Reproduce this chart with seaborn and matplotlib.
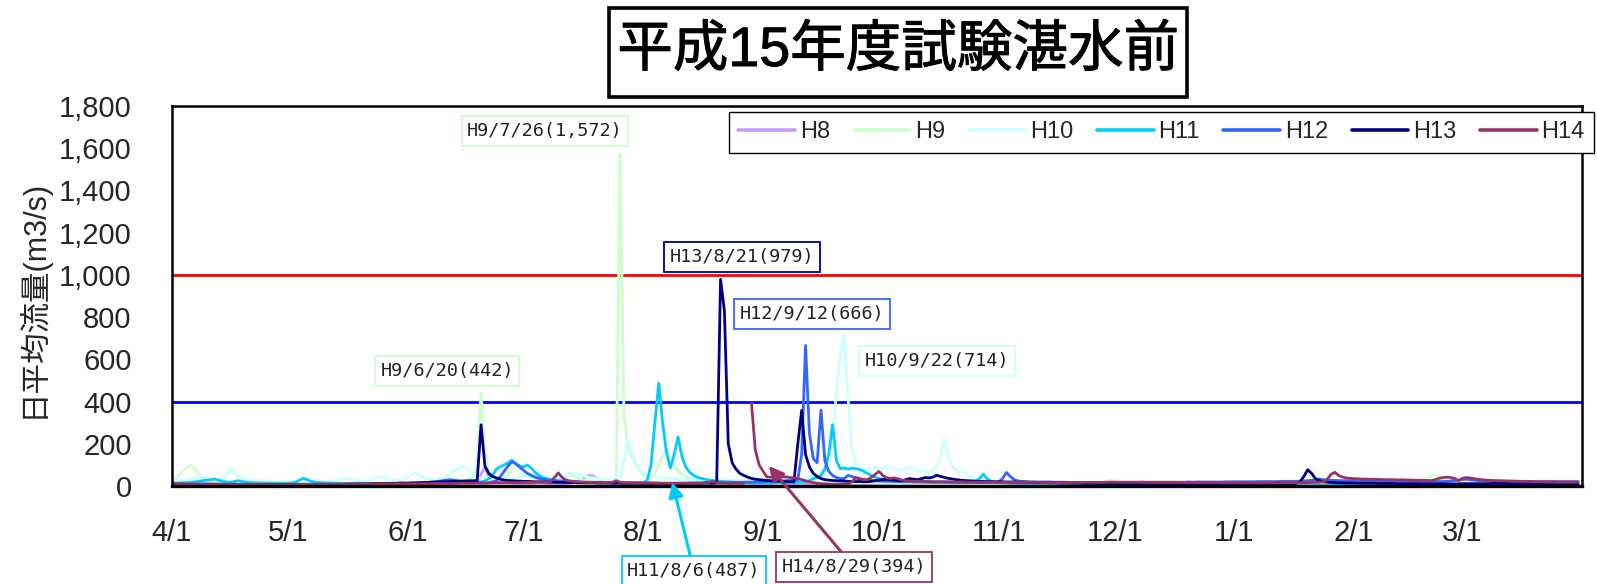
import numpy as np
import pandas as pd
import matplotlib
matplotlib.use("Agg")
import matplotlib.pyplot as plt
import seaborn as sns
from matplotlib.lines import Line2D
from matplotlib.patches import Rectangle
from matplotlib import font_manager
from matplotlib import patheffects
from matplotlib.ticker import MultipleLocator

nan = float("nan")

# ---------------- data ----------------
title_text = "平成15年度試験湛水前"
y_label = "日平均流量(m3/s)"

series_names = ["H8", "H9", "H10", "H11", "H12", "H13", "H14"]
series_colors = ["#cc99ff", "#ccffcc", "#ccffff", "#00ccff", "#3366ff", "#000080", "#993366"]

month_ticks = [0, 30, 61, 91, 122, 153, 183, 214, 244, 275, 306, 334]
month_labels = ["4/1", "5/1", "6/1", "7/1", "8/1", "9/1", "10/1", "11/1", "12/1", "1/1", "2/1", "3/1"]
ytick_values = [0, 200, 400, 600, 800, 1000, 1200, 1400, 1600, 1800]
ytick_labels = ["0", "200", "400", "600", "800", "1,000", "1,200", "1,400", "1,600", "1,800"]

ref_levels = [1000, 400]
ref_colors = ["#ff0000", "#0000ff"]

# daily mean discharge (m3/s), day 0 = 4/1
h8 = [
    12, 11, 11, 10, 10, 10, 9, 9, 9, 9,
    9, 9, 8, 8, 8, 8, 8, 8, 7, 7,
    7, 7, 8, 8, 7, 7, 7, 6, 6, 6,
    6, 6, 6, 6, 7, 7, 7, 6, 6, 6,
    6, 6, 6, 6, 6, 5, 5, 5, 5, 5,
    5, 5, 6, 6, 6, 7, 8, 8, 7, 7,
    7, 7, 7, 6, 6, 6, 7, 8, 9, 9,
    9, 10, 10, 11, 12, 14, 18, 16, 15, 20,
    55, 90, 40, 25, 20, 17, 15, 14, 13, 12,
    12, 11, 11, 10, 12, 15, 14, 12, 11, 10,
    10, 10, 11, 14, 18, 22, 30, 42, 50, 49,
    35, 22, 16, 13, 12, 11, 10, 10, 10, 9,
    9, 9, 11, 14, 13, 11, 10, 9, 9, 9,
    8, 8, 8, 8, 9, 10, 11, 13, 15, 12,
    10, 9, 9, 8, 8, 8, 8, 8, 7, 7,
    7, 7, 7, 8, 9, 11, 13, 15, 13, 11,
    10, 10, 9, 9, 9, 9, 8, 8, 8, 8,
    8, 8, 8, 9, 9, 10, 10, 9, 9, 8,
    8, 8, 8, 8, 7, 7, 7, 7, 7, 7,
    7, 7, 7, 7, 8, 8, 8, 8, 7, 7,
    7, 7, 7, 7, 7, 6, 6, 6, 6, 6,
    6, 6, 6, 6, 6, 6, 7, 7, 7, 7,
    7, 7, 7, 8, 9, 12, 16, 20, 18, 14,
    12, 10, 9, 9, 8, 8, 8, 8, 8, 7,
    7, 7, 8, 8, 8, 7, 7, 7, 6, 6,
    6, 6, 6, 6, 6, 6, 6, 7, 7, 7,
    8, 10, 14, 20, 18, 14, 11, 9, 8, 8,
    8, 7, 7, 7, 7, 7, 7, 6, 6, 6,
    6, 6, 6, 7, 7, 7, 6, 6, 6, 6,
    6, 6, 6, 6, 7, 7, 7, 7, 8, 8,
    8, 9, 9, 9, 8, 8, 8, 8, 7, 7,
    7, 7, 7, 7, 8, 8, 9, 9, 8, 8,
    8, 8, 8, 8, 9, 10, 12, 14, 12, 10,
    9, 9, 8, 8, 8, 8, 8, 9, 9, 9,
    9, 9, 9, 10, 10, 10, 9, 9, 9, 8,
    8, 8, 8, 7, 7, 7, 8, 8, 8, 8,
    8, 8, 8, 8, 8]

h9 = [
    20, 35, 55, 75, 90, 96, 80, 55, 38, 30,
    26, 24, 22, 21, 20, 19, 18, 18, 17, 17,
    16, 16, 15, 15, 15, 14, 14, 14, 14, 13,
    13, 13, 13, 13, 14, 15, 14, 13, 13, 12,
    12, 12, 12, 13, 13, 12, 12, 11, 11, 11,
    11, 11, 12, 13, 14, 14, 13, 12, 12, 11,
    11, 11, 11, 11, 12, 12, 13, 14, 15, 16,
    17, 18, 18, 20, 22, 25, 28, 32, 45, 110,
    442, 170, 70, 48, 40, 36, 34, 45, 80, 115,
    85, 58, 46, 40, 35, 31, 29, 27, 26, 25,
    28, 40, 55, 62, 48, 38, 31, 27, 25, 23,
    21, 19, 18, 17, 17, 20, 1572, 330, 190, 140,
    105, 75, 50, 40, 45, 60, 100, 140, 178, 120,
    90, 70, 55, 45, 40, 36, 33, 30, 28, 27,
    26, 25, 24, 23, 23, 22, 22, 21, 21, 20,
    20, 20, 19, 19, 19, 18, 18, 18, 17, 17,
    17, 17, 16, 18, 22, 20, 18, 17, 16, 16,
    16, 15, 15, 15, 16, 18, 17, 16, 15, 15,
    15, 15, 14, 14, 14, 14, 14, 13, 13, 13,
    13, 13, 13, 13, 13, 13, 12, 12, 12, 12,
    12, 12, 13, 13, 12, 12, 12, 11, 11, 11,
    11, 11, 11, 11, 11, 11, 11, 11, 10, 10,
    10, 10, 10, 10, 10, 10, 10, 10, 11, 11,
    11, 11, 11, 11, 12, 12, 13, 13, 13, 12,
    14, 18, 24, 28, 24, 18, 14, 12, 11, 11,
    10, 10, 10, 10, 10, 9, 9, 9, 9, 9,
    9, 9, 9, 10, 10, 10, 9, 9, 9, 9,
    9, 9, 8, 8, 8, 8, 8, 8, 8, 8,
    8, 8, 8, 8, 9, 9, 9, 9, 9, 9,
    9, 9, 9, 9, 9, 10, 10, 10, 10, 10,
    10, 10, 10, 10, 10, 11, 11, 11, 11, 11,
    11, 11, 11, 12, 12, 12, 12, 12, 13, 13,
    14, 15, 17, 20, 26, 35, 45, 55, 45, 32,
    24, 20, 17, 15, 14, 14, 13, 13, 13, 12,
    12, 12, 13, 14, 16, 18, 16, 14, 13, 13,
    12, 12, 12, 12, 12, 12, 11, 11, 11, 11,
    11, 11, 11, 11, 11]

h10 = [
    30, 28, 27, 26, 28, 35, 45, 40, 32, 28,
    26, 25, 26, 30, 50, 85, 70, 45, 35, 30,
    28, 26, 25, 24, 24, 23, 23, 22, 22, 22,
    21, 21, 22, 25, 30, 28, 25, 24, 23, 22,
    22, 22, 24, 28, 35, 38, 32, 27, 25, 24,
    24, 26, 32, 40, 45, 38, 32, 28, 27, 27,
    32, 42, 56, 61, 50, 40, 35, 32, 30, 32,
    38, 45, 55, 70, 85, 95, 90, 70, 50, 40,
    36, 45, 40, 35, 32, 30, 30, 32, 35, 38,
    40, 42, 45, 55, 50, 42, 38, 36, 34, 33,
    35, 40, 48, 52, 56, 59, 52, 45, 40, 38,
    35, 33, 32, 31, 30, 30, 32, 120, 218, 160,
    110, 80, 62, 52, 46, 42, 40, 38, 36, 35,
    34, 33, 32, 32, 31, 31, 30, 30, 30, 29,
    29, 28, 28, 28, 27, 27, 27, 26, 26, 26,
    26, 26, 27, 28, 30, 32, 34, 36, 35, 34,
    33, 33, 34, 36, 40, 45, 50, 52, 55, 60,
    100, 220, 450, 620, 714, 420, 180, 110, 85, 80,
    78, 82, 90, 85, 80, 96, 88, 82, 78, 75,
    80, 86, 78, 72, 70, 68, 70, 75, 95, 140,
    227, 140, 90, 78, 70, 60, 50, 42, 36, 32,
    30, 28, 26, 24, 22, 20, 19, 18, 17, 17,
    16, 16, 15, 15, 15, 14, 14, 14, 13, 13,
    13, 13, 12, 12, 12, 12, 11, 11, 11, 11,
    11, 10, 10, 10, 10, 10, 10, 10, 9, 9,
    9, 9, 9, 9, 9, 9, 9, 8, 8, 8,
    8, 8, 8, 8, 8, 7, 7, 7, 7, 7,
    7, 7, 7, 7, 7, 7, 6, 6, 6, 6,
    6, 6, 6, 6, 6, 6, 6, 7, 7, 7,
    7, 7, 7, 7, 7, 7, 7, 8, 8, 8,
    8, 8, 9, 9, 9, 9, 9, 9, 9, 9,
    9, 9, 9, 9, 9, 9, 10, 10, 10, 10,
    10, 10, 10, 10, 10, 10, 10, 10, 11, 11,
    11, 11, 11, 12, 12, 12, 12, 12, 12, 12,
    12, 12, 12, 12, 13, 13, 13, 13, 13, 13,
    13, 13, 13, 13, 13, 13, 12, 12, 12, 12,
    12, 12, 12, 12, 12]

h11 = [
    15, 14, 14, 15, 16, 18, 20, 22, 25, 28,
    30, 33, 28, 22, 19, 18, 20, 25, 22, 18,
    16, 15, 15, 14, 14, 14, 13, 13, 13, 13,
    13, 14, 18, 28, 36, 30, 22, 18, 16, 15,
    14, 14, 13, 13, 13, 12, 12, 12, 12, 12,
    12, 12, 12, 11, 11, 11, 11, 11, 11, 11,
    11, 11, 11, 12, 12, 13, 14, 16, 18, 20,
    22, 24, 26, 25, 23, 22, 20, 19, 18, 18,
    20, 24, 35, 50, 80, 92, 100, 110, 122, 105,
    95, 90, 100, 85, 65, 50, 40, 35, 30, 28,
    26, 24, 22, 20, 19, 18, 18, 17, 17, 16,
    16, 15, 15, 15, 14, 14, 14, 14, 14, 15,
    15, 16, 17, 25, 100, 300, 487, 300, 160, 85,
    150, 233, 140, 90, 65, 50, 42, 36, 32, 28,
    26, 24, 22, 21, 20, 19, 18, 18, 17, 17,
    16, 16, 16, 16, 15, 15, 15, 15, 16, 17,
    16, 16, 17, 18, 20, 25, 35, 40, 50, 80,
    150, 290, 120, 82, 85, 80, 84, 82, 78, 70,
    60, 50, 42, 36, 32, 30, 28, 27, 26, 25,
    24, 23, 22, 22, 21, 21, 20, 20, 19, 19,
    18, 18, 18, 17, 17, 17, 17, 18, 22, 35,
    56, 35, 22, 18, 16, 15, 14, 13, 12, 12,
    11, 11, 10, 10, 10, 9, 9, 9, 8, 8,
    8, 8, 7, 7, 7, 7, 6, 6, 6, 6,
    6, 6, 6, 5, 5, 5, 5, 5, 5, 5,
    5, 5, 5, 5, 5, 4, 4, 4, 4, 4,
    4, 4, 4, 4, 4, 4, 3, 3, 3, 3,
    3, 3, 3, 3, 4, 4, 4, 3, 3, 3,
    3, 3, 3, 3, 3, 2, 2, 2, 2, 2,
    2, 2, 2, 2, 2, 2, 2, 3, 3, 3,
    3, 3, 3, 3, 2, 2, 2, 2, 2, 2,
    2, 2, 2, 2, 2, 3, 3, 3, 3, 3,
    3, 4, 4, 4, 4, 4, 3, 3, 3, 3,
    3, 3, 3, 3, 4, 4, 4, 4, 4, 4,
    4, 4, 5, 5, 5, 5, 5, 4, 4, 4,
    4, 4, 4, 4, 4, 3, 3, 3, 3, 3,
    3, 3, 3, 3, 3]

h12 = [
    10, 10, 10, 9, 9, 9, 9, 9, 9, 9,
    9, 8, 8, 8, 8, 8, 7, 7, 7, 7,
    7, 7, 7, 7, 7, 7, 8, 8, 8, 8,
    8, 8, 8, 8, 8, 8, 8, 8, 9, 9,
    9, 9, 9, 9, 9, 10, 10, 10, 10, 10,
    10, 10, 10, 10, 11, 11, 11, 12, 12, 12,
    12, 12, 13, 14, 15, 16, 17, 18, 20, 22,
    25, 28, 30, 28, 25, 22, 20, 18, 16, 15,
    14, 14, 15, 18, 25, 45, 70, 95, 115, 105,
    90, 75, 60, 50, 42, 36, 32, 28, 26, 24,
    22, 21, 20, 19, 18, 18, 17, 17, 16, 16,
    15, 15, 15, 15, 15, 14, 14, 14, 14, 14,
    14, 14, 14, 14, 14, 14, 14, 13, 13, 13,
    13, 13, 13, 14, 14, 14, 14, 14, 15, 15,
    15, 15, 15, 16, 16, 16, 17, 17, 18, 18,
    18, 19, 20, 20, 21, 22, 22, 23, 24, 25,
    26, 28, 30, 150, 666, 250, 130, 110, 360, 120,
    70, 50, 40, 35, 35, 50, 45, 38, 32, 30,
    28, 26, 25, 24, 23, 22, 22, 21, 21, 20,
    20, 20, 19, 19, 19, 18, 18, 18, 18, 18,
    18, 18, 17, 17, 17, 17, 16, 16, 16, 16,
    16, 16, 16, 17, 20, 35, 64, 45, 30, 24,
    22, 21, 20, 20, 19, 19, 19, 18, 18, 18,
    18, 18, 17, 17, 17, 17, 17, 16, 16, 16,
    16, 16, 16, 16, 17, 17, 17, 17, 17, 17,
    17, 18, 18, 18, 18, 18, 18, 18, 18, 18,
    18, 18, 18, 18, 18, 19, 19, 19, 19, 19,
    19, 19, 19, 20, 20, 20, 20, 20, 20, 20,
    20, 21, 21, 21, 21, 21, 21, 22, 22, 22,
    22, 22, 23, 24, 25, 27, 30, 33, 30, 28,
    27, 26, 26, 25, 25, 24, 24, 24, 23, 23,
    23, 23, 23, 23, 22, 22, 22, 22, 22, 22,
    22, 22, 21, 21, 21, 21, 21, 21, 21, 21,
    22, 24, 26, 28, 30, 32, 30, 28, 26, 25,
    24, 24, 23, 23, 23, 23, 22, 22, 22, 22,
    22, 22, 21, 21, 21, 21, 21, 21, 21, 21,
    21, 21, 21, 21, 21]

h13 = [
    6, 6, 5, 5, 5, 5, 5, 5, 5, 5,
    5, 5, 5, 5, 5, 5, 5, 4, 4, 4,
    4, 4, 4, 4, 4, 5, 5, 5, 5, 5,
    5, 5, 5, 6, 6, 6, 6, 6, 6, 6,
    6, 6, 7, 7, 7, 8, 8, 8, 9, 9,
    9, 10, 10, 11, 11, 12, 12, 13, 13, 14,
    14, 14, 15, 15, 16, 16, 17, 18, 18, 19,
    20, 20, 21, 22, 22, 23, 24, 25, 25, 26,
    290, 95, 60, 45, 38, 32, 28, 26, 25, 24,
    23, 22, 22, 21, 20, 20, 19, 19, 18, 18,
    17, 17, 17, 16, 16, 16, 15, 15, 15, 15,
    14, 14, 14, 14, 14, 14, 14, 13, 13, 13,
    13, 13, 12, 12, 12, 12, 12, 12, 12, 12,
    12, 12, 12, 12, 13, 13, 13, 13, 14, 14,
    14, 15, 979, 830, 200, 110, 80, 60, 50, 42,
    36, 32, 30, 28, 26, 25, 24, 23, 22, 21,
    20, 20, 200, 358, 150, 90, 60, 45, 35, 30,
    28, 26, 25, 24, 23, 22, 22, 21, 21, 20,
    20, 22, 25, 28, 30, 32, 30, 28, 26, 25,
    30, 35, 32, 30, 35, 40, 38, 42, 51, 45,
    40, 36, 33, 30, 28, 26, 25, 24, 23, 22,
    22, 21, 21, 20, 20, 20, 19, 19, 19, 18,
    18, 18, 17, 17, 16, 16, 16, 15, 15, 15,
    14, 14, 14, 13, 13, 13, 12, 12, 12, 12,
    11, 11, 11, 11, 10, 10, 10, 10, 10, 10,
    9, 9, 9, 9, 9, 9, 9, 8, 8, 8,
    8, 8, 8, 8, 8, 8, 7, 7, 7, 7,
    7, 7, 7, 7, 7, 7, 8, 8, 8, 8,
    8, 8, 8, 8, 8, 8, 9, 9, 9, 10,
    10, 12, 20, 45, 77, 60, 35, 25, 20, 18,
    17, 16, 15, 15, 14, 14, 14, 13, 13, 13,
    13, 13, 12, 12, 12, 12, 12, 11, 11, 11,
    11, 11, 11, 10, 10, 10, 10, 10, 10, 10,
    10, 10, 10, 10, 11, 11, 11, 11, 11, 11,
    11, 11, 12, 12, 12, 12, 12, 11, 11, 11,
    11, 11, 11, 11, 11, 11, 10, 10, 10, 10,
    10, 10, 10, 10, 10]

h14 = [
    10, 10, 10, 10, 9, 9, 9, 9, 9, 9,
    9, 9, 9, 8, 8, 8, 8, 8, 8, 8,
    8, 8, 8, 7, 7, 7, 7, 7, 7, 7,
    7, 7, 7, 7, 8, 8, 8, 8, 8, 8,
    8, 8, 8, 8, 8, 8, 9, 9, 9, 9,
    9, 9, 9, 9, 10, 10, 10, 10, 10, 10,
    10, 10, 10, 11, 11, 11, 11, 11, 12, 12,
    12, 12, 12, 12, 13, 13, 13, 13, 13, 14,
    14, 14, 14, 14, 15, 15, 15, 16, 16, 16,
    16, 17, 17, 17, 18, 18, 18, 19, 20, 40,
    62, 40, 28, 24, 22, 20, 19, 18, 18, 17,
    17, 16, 16, 16, 18, 25, 18, 16, 15, 15,
    14, 14, 14, 14, 14, 14, 13, 13, 13, 13,
    13, 13, 13, 13, 13, 13, 13, 13, 14, 17,
    22, 16, 14, 13, 13, 13, 13, 13, 13, nan,
    394, 170, 100, 70, 43, 42, 42, 42, 43, 43,
    40, 38, 35, 30, 25, 20, 16, 13, 11, 10,
    9, 8, 8, 8, 8, 10, 20, 40, 35, 30,
    30, 40, 55, 69, 50, 38, 36, 38, 34, 28,
    25, 24, 23, 22, 22, 21, 21, 20, 20, 20,
    20, 20, 19, 19, 19, 19, 18, 18, 18, 18,
    18, 18, 18, 18, 17, 17, 17, 17, 17, 17,
    17, 17, 17, 17, 17, 17, 16, 16, 16, 16,
    16, 16, 16, 16, 17, 17, 17, 17, 17, 17,
    17, 17, 18, 18, 18, 18, 18, 18, 18, 18,
    18, 18, 17, 17, 17, 17, 17, 17, 17, 17,
    17, 17, 16, 16, 16, 16, 16, 16, 16, 16,
    16, 16, 15, 15, 15, 15, 15, 15, 15, 15,
    15, 15, 15, 15, 15, 16, 16, 16, 16, 16,
    16, 16, 16, 16, 16, 17, 17, 18, 20, 30,
    55, 65, 50, 42, 38, 36, 35, 34, 33, 33,
    32, 32, 31, 31, 30, 30, 30, 29, 29, 29,
    28, 28, 27, 27, 27, 26, 26, 30, 36, 40,
    42, 40, 36, 25, 36, 40, 38, 35, 32, 30,
    28, 27, 26, 25, 25, 24, 24, 23, 23, 22,
    22, 21, 21, 20, 20, 20, 19, 19, 19, 18,
    18, 18, 18, 18, 18]

series_values = [h8, h9, h10, h11, h12, h13, h14]

# callouts: label, series index, pointed (day, value), text centre in figure px from top-left, arrow?
callout_texts = ["H9/7/26(1,572)", "H9/6/20(442)", "H13/8/21(979)", "H12/9/12(666)",
                 "H10/9/22(714)", "H11/8/6(487)", "H14/8/29(394)"]
callout_series = [1, 1, 5, 4, 2, 3, 6]
callout_points = [(116, 1572), (80, 442), (142, 979), (164, 666), (174, 714), (129.5, 18), (154.5, 95)]
callout_text_px = [(545, 131), (447, 371), (742, 257), (812, 314), (937, 361), (694, 571), (854, 567)]
callout_arrow = [False, False, False, False, False, True, True]

# ---------------- figure ----------------
W, H = 1597, 584
sns.set_style("white")
font_names = {f.name for f in font_manager.fontManager.ttflist}
plt.rcParams["font.family"] = ["Liberation Sans", "Noto Sans CJK JP", "DejaVu Sans"]

fig = plt.figure(figsize=(W / 100, H / 100), dpi=100)
ax = fig.add_axes([172 / W, 1 - 486 / H, 1410 / W, 380 / H])

for level, col in zip(ref_levels, ref_colors):
    ax.axhline(level, color=col, lw=2.0, zorder=1.5)

for name, col, vals in zip(series_names, series_colors, series_values):
    assert len(vals) == 365, (name, len(vals))
    v = np.array(vals, dtype=float)
    seg = np.cumsum(np.isnan(v))
    df = pd.DataFrame({"day": np.arange(len(v)), "flow": v, "seg": seg}).dropna()
    sns.lineplot(data=df, x="day", y="flow", units="seg", estimator=None,
                 color=col, lw=2.0, ax=ax, legend=False, zorder=2)

ax.set_xlim(0, 365)
ax.set_ylim(0, 1800)
ax.set_xlabel("")
ax.set_ylabel(y_label, fontsize=22, family=["Liberation Sans", "Noto Sans CJK JP"])
ax.yaxis.set_label_coords((32 - 172) / 1410, (486 - 298) / 380)
ax.yaxis.label.set_verticalalignment("center")

ax.set_xticks(month_ticks)
ax.set_xticklabels(month_labels)
ax.xaxis.set_minor_locator(MultipleLocator(1))
ax.tick_params(axis="x", which="major", length=0, pad=24, labelsize=21)
ax.tick_params(axis="x", which="minor", direction="in", length=5, width=0.6, color="#444444")
ax.set_yticks(ytick_values)
ax.set_yticklabels(ytick_labels)
ax.yaxis.set_minor_locator(MultipleLocator(100))
ax.tick_params(axis="y", which="major", direction="in", length=8, width=1.3, pad=29, labelsize=21)
ax.tick_params(axis="y", which="minor", direction="in", length=5, width=1.0)
ax.tick_params(top=False, right=False, which="both")
ax.set_axisbelow(True)
for sp in ax.spines.values():
    sp.set_visible(True)
    sp.set_color("black")
    sp.set_linewidth(1.8)
ax.spines["bottom"].set_linewidth(2.4)

# title with box
fig.text(898 / W, 1 - 52 / H, title_text, fontsize=40, ha="center", va="center",
         family=["Liberation Sans", "Noto Sans CJK JP"], color="black",
         path_effects=[patheffects.withStroke(linewidth=0.7, foreground="black")])
fig.patches.append(Rectangle((609 / W, 1 - 97 / H), 578 / W, 89 / H, transform=fig.transFigure,
                             fill=False, edgecolor="black", lw=2.6))

# legend
if "Liberation Sans Narrow" in font_names:
    leg_prop = font_manager.FontProperties(family="Liberation Sans Narrow", size=20)
else:
    leg_prop = font_manager.FontProperties(family="Liberation Sans", size=17)
handles = [Line2D([], [], color=c, lw=2.6) for c in series_colors]
leg = fig.legend(handles, series_names, loc="upper left", bbox_to_anchor=(729 / W, 1 - 112 / H),
                 bbox_transform=fig.transFigure, ncol=7, frameon=True, fancybox=False,
                 edgecolor="black", framealpha=1, handlelength=2.4, handletextpad=0.2,
                 columnspacing=1.0, borderpad=0.4, borderaxespad=0, prop=leg_prop)
leg.get_frame().set_linewidth(1.0)

# callouts
for txt, si, pt, tp, arr in zip(callout_texts, callout_series, callout_points, callout_text_px, callout_arrow):
    col = series_colors[si]
    kw = {}
    if arr:
        kw["arrowprops"] = dict(arrowstyle="-|>", color=col, lw=2.2, mutation_scale=22,
                                shrinkA=0, shrinkB=0)
    ax.annotate(txt, xy=pt, xycoords="data", xytext=(tp[0], H - tp[1]), textcoords="figure pixels",
                ha="center", va="center", fontsize=13.3, family="DejaVu Sans Mono", color="#222222",
                bbox=dict(boxstyle="square,pad=0.3", fc="white", ec=col, lw=1.3),
                annotation_clip=False, zorder=5, **kw)

fig.savefig("out.png", dpi=100)
